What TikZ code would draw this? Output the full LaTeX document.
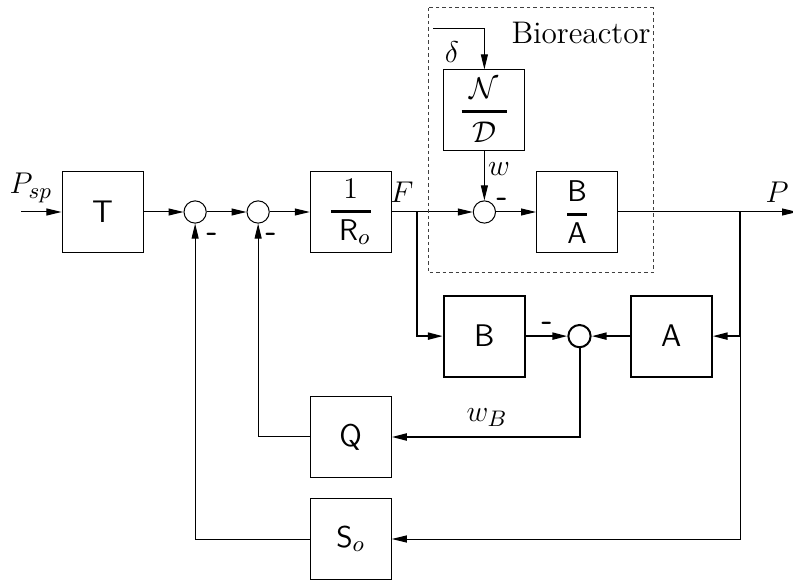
\documentclass[tikz,border=0pt]{standalone}
\usepackage{amsmath}
\usepackage{amssymb}
\usepackage{tikz}
\usetikzlibrary{arrows.meta, positioning}

\begin{document}
\begin{tikzpicture}[
    x=0.4pt, y=-0.4pt,
    font=\fontsize{12.5}{15}\selectfont,
    box/.style={
        rectangle,
        draw=black,
        thin,
        align=center,
        minimum width=32.4pt,
        minimum height=32.4pt,
        inner sep=0pt,
        font=\fontsize{12.5}{15}\selectfont\sffamily
    },
    sumnode/.style={
        circle,
        draw=black,
        thin,
        minimum size=8.9pt,
        inner sep=0pt
    },
    sign/.style={inner sep=0pt, font=\fontsize{12.5}{15}\selectfont\sffamily\bfseries},
    arrow/.style={-{Triangle[length=6pt, width=2.8pt]}, thin}
]
\useasboundingbox (0,0) rectangle (793,584);

% ---------------- Lazo principal ----------------
\node[box] (T) at (102.5,212) {T};
\node[sumnode, right=16pt of T] (s1) {};
\node[sumnode, right=15.9pt of s1] (s2) {};
\node[box, right=16pt of s2] (R) {$\genfrac{}{}{0.9pt}{0}{1}{\;\mathsf{R}_o}$};
\node[sumnode, right=32.4pt of R] (s3) {};
\node[box, right=16pt of s3] (BA) {$\genfrac{}{}{0.9pt}{0}{\mathsf{B}}{\mathsf{A}}$};
\node[box, above=19.6pt of s3] (ND) {$\genfrac{}{}{1.2pt}{0}{\;\mathcal{N}\;}{\mathcal{D}}$};

\coordinate (in) at (21,212);
\coordinate[right=10pt of R] (fb);
\coordinate[right=48.8pt of BA] (pb);
\coordinate[right=22.8pt of pb] (out);
\coordinate (d0) at (433,29);

\draw[arrow] (in) -- (T);
\draw[arrow] (T) -- (s1);
\draw[arrow] (s1) -- (s2);
\draw[arrow] (s2) -- (R);
\draw[arrow] (R) -- (s3);
\draw[arrow] (s3) -- (BA);
\draw[arrow] (BA) -- (out);
\draw[arrow] (ND) -- (s3);
\draw[arrow] (d0) -| (ND);

% ---------------- Bioreactor ----------------
\draw[black!75, dash pattern=on 1.4pt off 1.2pt] (428,8) rectangle (653,273);
\node (bio) at (581,33) {Bioreactor};

% ---------------- Observador ----------------
\node[box, thick, below=28.4pt of s3] (B) {B};
\node[sumnode, thick, right=16.6pt of B] (s4) {};
\node[box, thick, right=15.2pt of s4] (A) {A};
\node[box, below=57.2pt of R] (Q) {Q};
\node[box, below=8pt of Q] (S) {$\mathsf{S}_o$};

\draw[arrow] (pb) |- (S);
\draw[arrow] (S) -| (s1);
\draw[arrow] (Q) -| (s2);
\draw[arrow, thick] (fb) |- (B);
\draw[arrow, thick] (pb) |- (A);
\draw[arrow, thick] (B) -- (s4);
\draw[arrow, thick] (A) -- (s4);
\draw[arrow, thick] (s4) |- (Q);

% ---------------- Etiquetas ----------------
\node (lpsp) at (31,188) {$P_{sp}$};
\node (lf) at (402,192) {$F$};
\node (lp) at (777,192) {$P$};
\node (lw) at (499,169) {$w$};
\node (ldelta) at (452,52) {$\delta$};
\node (lwb) at (487,418) {$w_B$};

\node[sign] (m1) at (212,237) {-};
\node[sign] (m2) at (271,237) {-};
\node[sign] (m3) at (502,202) {-};
\node[sign] (m4) at (547,326) {-};

\end{tikzpicture}
\end{document}
